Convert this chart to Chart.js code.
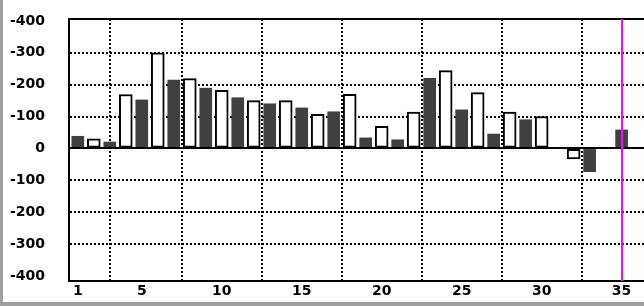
<!DOCTYPE html>
<html>
<head>
<meta charset="UTF-8">
<title>bars</title>
<script src="https://cdn.jsdelivr.net/npm/chart.js"></script>
<style>
  html, body { margin: 0; padding: 0; background: #fff; }
  #wrap { width: 644px; height: 306px; }
</style>
</head>
<body>
<div id="wrap"><canvas id="chart" width="644" height="306"></canvas></div>
<script>
// odd slots are the filled bars, even slots the hollow ones
const darkCats   = [1, 3, 5, 7, 9, 11, 13, 15, 17, 19, 21, 23, 25, 27, 29, 31, 33, 35];
const darkValues = [38, 20, 152, 214, 189, 159, 140, 127, 115, 33, 27, 220, 121, 45, 90, 0, -73, 58];
const whiteCats   = [2, 4, 6, 8, 10, 12, 14, 16, 18, 20, 22, 24, 26, 28, 30, 32, 34];
const whiteValues = [30, 169, 300, 219, 182, 150, 150, 107, 170, 69, 114, 244, 175, 114, 100, -33, 0];
const xTicks = [1, 5, 10, 15, 20, 25, 30, 35];
const yTicks = [-400, -300, -200, -100, 0, 100, 200, 300, 400];
const markerCat = 35;

Chart.defaults.font.family = 'DejaVu Sans';
Chart.defaults.font.size = 14;
Chart.defaults.font.weight = 'bold';
Chart.defaults.color = '#000';

const extras = {
  id: 'extras',
  afterDatasetsDraw(chart) {
    const { ctx, chartArea, scales } = chart;
    ctx.save();
    ctx.strokeStyle = '#000';
    ctx.lineWidth = 2;
    // zero line
    const y0 = Math.round(scales.y.getPixelForValue(0));
    ctx.beginPath();
    ctx.moveTo(chartArea.left, y0);
    ctx.lineTo(chartArea.right, y0);
    ctx.stroke();
    // top frame line
    ctx.beginPath();
    ctx.moveTo(chartArea.left - 1, Math.round(chartArea.top));
    ctx.lineTo(chartArea.right, Math.round(chartArea.top));
    ctx.stroke();
    // marker
    const xm = Math.round(scales.x.getPixelForValue(markerCat));
    ctx.strokeStyle = '#ff00ff';
    ctx.beginPath();
    ctx.moveTo(xm, chartArea.top);
    ctx.lineTo(xm, chartArea.bottom);
    ctx.stroke();
    ctx.restore();
  },
  afterDraw(chart) {
    const { ctx, width, height } = chart;
    ctx.save();
    ctx.fillStyle = '#a0a0a0';
    ctx.fillRect(0, 0, 3, height);
    ctx.fillRect(0, height - 4, width, 4);
    ctx.restore();
  }
};

new Chart(document.getElementById('chart'), {
  type: 'bar',
  data: {
    datasets: [
      {
        data: darkCats.map((c, i) => ({ x: c, y: darkValues[i] })),
        backgroundColor: '#404040',
        borderWidth: 0,
        barThickness: 12
      },
      {
        data: whiteCats.map((c, i) => ({ x: c, y: whiteValues[i] })),
        backgroundColor: '#fff',
        borderColor: '#000',
        borderWidth: 2,
        borderSkipped: false,
        barThickness: 13
      }
    ]
  },
  options: {
    responsive: false,
    animation: false,
    datasets: { bar: { grouped: false } },
    layout: { padding: { top: 19, right: 0, left: 0, bottom: 0 } },
    plugins: { legend: { display: false }, tooltip: { enabled: false } },
    scales: {
      x: {
        type: 'linear',
        offset: false,
        min: 0.45,
        max: 36.4,
        afterBuildTicks: s => { s.ticks = xTicks.map(v => ({ value: v })); },
        afterFit: s => { s.height = 25; },
        ticks: { padding: 2, maxRotation: 0, autoSkip: false },
        grid: { color: '#000', lineWidth: 2, drawTicks: false },
        border: { color: '#000', width: 2, dash: [2, 2] }
      },
      y: {
        min: -416,
        max: 406,
        afterBuildTicks: s => { s.ticks = yTicks.map(v => ({ value: v })); },
        afterFit: s => { s.width = 69; },
        ticks: {
          padding: 0,
          callback: v => (v === 0 ? '0' : '-' + Math.abs(v))
        },
        grid: {
          // outermost lines sit on the frame and are not drawn
          color: c => (c.tick && Math.abs(c.tick.value) === 400 ? 'rgba(0,0,0,0)' : '#000'),
          lineWidth: 2, drawTicks: true, tickLength: 24, tickColor: 'rgba(0,0,0,0)'
        },
        border: { color: '#000', width: 2, dash: [2, 2] }
      }
    }
  },
  plugins: [extras]
});
</script>
</body>
</html>
